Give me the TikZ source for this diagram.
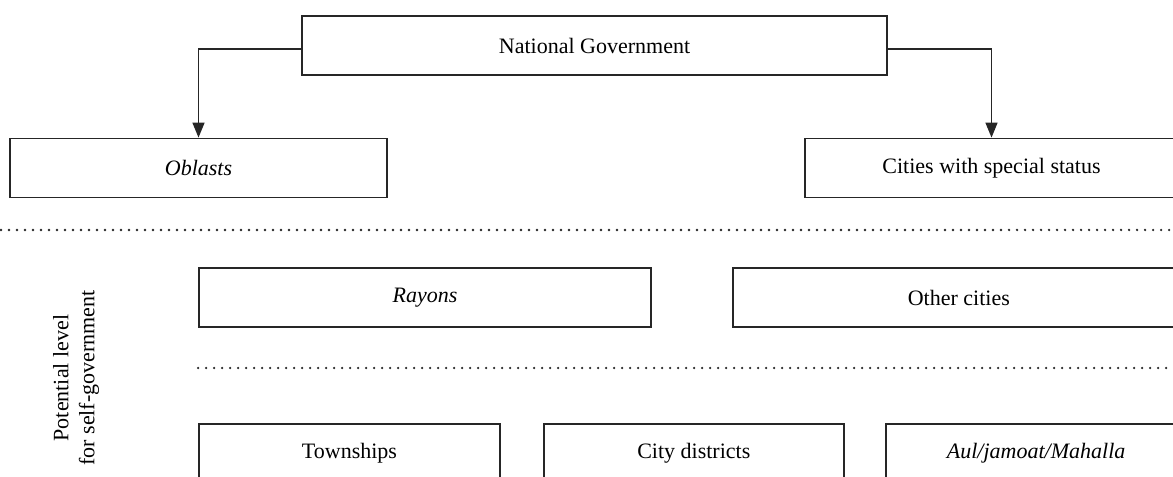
\documentclass[tikz,border=0pt]{standalone}
\usepackage{fontspec}
\setmainfont{Liberation Serif}
\usepackage{tikz}
\usetikzlibrary{arrows.meta, positioning}
\tikzset{
  lvl/.style={rectangle, draw=black!85, line width=0.9bp, inner sep=0pt,
              minimum height=29.5bp, align=center},
  arc/.style={-{Triangle[length=7.5bp, width=6bp]}, line width=0.75bp, black!85},
  sep/.style={black!85, line width=1.3bp, line cap=round,
              dash pattern=on 0pt off 4bp}
}
\begin{document}
\begin{tikzpicture}[x=0.5bp, y=-0.5bp, node distance=5mm and 20bp,
    font=\fontsize{11bp}{13bp}\selectfont]
  \useasboundingbox (0,0) rectangle (1173,477);
  % central level
  \node[lvl, minimum width=292.5bp] (ng) at (594.5,45.5) {National Government};
  \node[lvl, minimum width=188.5bp] (obl) at (198.5,168) {\textit{Oblasts}};
  \node[lvl, minimum width=186.5bp] (csp) at (991.5,168) {Cities with special status};
  \draw[arc] ([yshift=-1.75bp]ng.west) -| (obl.north);
  \draw[arc] ([yshift=-1.75bp]ng.east) -| (csp.north);
  \draw[sep] (1,230) -- (1173,230);
  % local level
  \node[lvl, minimum width=226bp] (ray) at (425,297.5) {\textit{Rayons}};
  \node[lvl, minimum width=226bp, right=40bp of ray] (oth) {Other cities};
  \draw[sep] (ray.west |- 0,368) -- (1173,368);
  \node[lvl, minimum width=150.5bp] (twn) at (349.5,453.5) {Townships};
  \node[lvl, minimum width=150bp, right=21bp of twn] (cdi) {City districts};
  \node[lvl, minimum width=150.5bp, right=of cdi] (aul) {\textit{Aul/jamoat/Mahalla}};
  \node[rotate=90, align=center] (pot) at (76,378) {Potential level\\for self-government};
\end{tikzpicture}
\end{document}
